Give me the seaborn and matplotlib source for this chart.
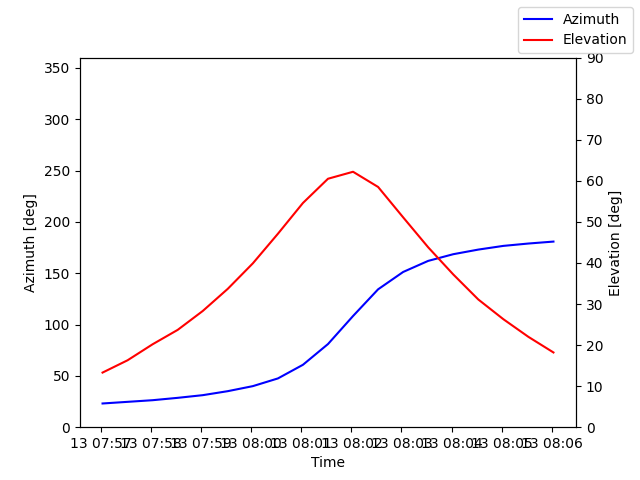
import pandas as pd
import matplotlib
matplotlib.use("Agg")
import matplotlib.pyplot as plt
import matplotlib.dates as mdates
import seaborn as sns

# pass samples, every 30 s
times = pd.date_range("2023-05-13 07:57:02", periods=19, freq="30s")
azimuth = [23.1, 24.7, 26.3, 28.6, 31.2, 35.1, 40.0, 47.5, 60.8, 81.0,
           108.3, 134.3, 151.2, 162.0, 168.5, 173.0, 176.6, 178.9, 180.8]
elevation = [13.3, 16.3, 20.2, 23.7, 28.3, 33.7, 39.9, 47.1, 54.6, 60.5,
             62.2, 58.5, 51.1, 43.8, 37.2, 31.1, 26.3, 22.0, 18.2]

fig, ax = plt.subplots(figsize=(6.4, 4.8), dpi=100)
sns.lineplot(x=times, y=azimuth, ax=ax, color="b", label="Azimuth", legend=False)
ax.set_ylim(0, 360)
ax.set_ylabel("Azimuth [deg]")
ax.set_xlabel("Time")

ax2 = ax.twinx()
sns.lineplot(x=times, y=elevation, ax=ax2, color="r", label="Elevation", legend=False)
ax2.set_ylim(0, 90)
ax2.set_yticks(range(0, 91, 10))
ax2.set_ylabel("Elevation [deg]")

ax.xaxis.set_major_locator(mdates.MinuteLocator())
ax.xaxis.set_major_formatter(mdates.DateFormatter("%d %H:%M"))

fig.legend()
fig.savefig("out.png")
